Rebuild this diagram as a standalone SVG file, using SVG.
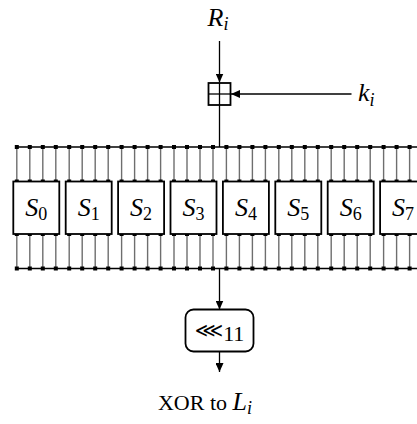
<svg xmlns="http://www.w3.org/2000/svg" xmlns:xlink="http://www.w3.org/1999/xlink" width="417" height="424" viewBox="0 0 417 424">
<style>
.ln{stroke:#000;stroke-width:1.3;fill:none}
.box{fill:#fff;stroke:#000;stroke-width:1.8}
.pinl{stroke:#6e6e6e;stroke-width:1.4}
.math{font-family:"Liberation Serif","DejaVu Serif",serif;font-style:italic;font-size:26px;fill:#000}
.sub{font-style:normal;font-size:18px}
.subi{font-style:italic;font-size:18px}
.txt{font-family:"Liberation Serif","DejaVu Serif",serif;font-size:22px;fill:#000}
.sym{font-family:"DejaVu Sans",sans-serif;font-size:20px;fill:#000}
</style>
<defs>
<marker id="ah" markerWidth="10" markerHeight="8" refX="9" refY="4" orient="auto" markerUnits="userSpaceOnUse">
<path d="M0,0 L9,4 L0,8 Z" fill="#000"/>
</marker>
<g id="pin">
<line class="pinl" x1="0" y1="0" x2="0" y2="34.5"/>
<rect x="-2" y="-2" width="4" height="4" fill="#000"/>
<rect x="-2" y="32.5" width="4" height="4" fill="#000"/>
</g>
</defs>

<g id="connectors">
<line class="ln" x1="219.5" y1="41" x2="219.5" y2="82.5" marker-end="url(#ah)"/>
<line class="ln" x1="351.5" y1="94" x2="231" y2="94" marker-end="url(#ah)"/>
<line class="ln" x1="219.5" y1="105" x2="219.5" y2="147"/>
<line class="ln" x1="16.8" y1="147" x2="417" y2="147"/>
<line class="ln" x1="16.8" y1="268.5" x2="417" y2="268.5"/>
<line class="ln" x1="219.5" y1="268.5" x2="219.5" y2="309.5" marker-end="url(#ah)"/>
<line class="ln" x1="219.5" y1="351.5" x2="219.5" y2="372" marker-end="url(#ah)"/>
<g id="pins-top">
<use xlink:href="#pin" x="16.8" y="147"/><use xlink:href="#pin" x="29.8" y="147"/><use xlink:href="#pin" x="42.8" y="147"/><use xlink:href="#pin" x="55.8" y="147"/>
<use xlink:href="#pin" x="69.2" y="147"/><use xlink:href="#pin" x="82.2" y="147"/><use xlink:href="#pin" x="95.2" y="147"/><use xlink:href="#pin" x="108.2" y="147"/>
<use xlink:href="#pin" x="121.6" y="147"/><use xlink:href="#pin" x="134.6" y="147"/><use xlink:href="#pin" x="147.6" y="147"/><use xlink:href="#pin" x="160.6" y="147"/>
<use xlink:href="#pin" x="174" y="147"/><use xlink:href="#pin" x="187" y="147"/><use xlink:href="#pin" x="200" y="147"/><use xlink:href="#pin" x="213" y="147"/>
<use xlink:href="#pin" x="226.4" y="147"/><use xlink:href="#pin" x="239.4" y="147"/><use xlink:href="#pin" x="252.4" y="147"/><use xlink:href="#pin" x="265.4" y="147"/>
<use xlink:href="#pin" x="278.8" y="147"/><use xlink:href="#pin" x="291.8" y="147"/><use xlink:href="#pin" x="304.8" y="147"/><use xlink:href="#pin" x="317.8" y="147"/>
<use xlink:href="#pin" x="331.2" y="147"/><use xlink:href="#pin" x="344.2" y="147"/><use xlink:href="#pin" x="357.2" y="147"/><use xlink:href="#pin" x="370.2" y="147"/>
<use xlink:href="#pin" x="383.6" y="147"/><use xlink:href="#pin" x="396.6" y="147"/><use xlink:href="#pin" x="409.6" y="147"/>
</g>
<g id="pins-bottom">
<use xlink:href="#pin" x="16.8" y="234"/><use xlink:href="#pin" x="29.8" y="234"/><use xlink:href="#pin" x="42.8" y="234"/><use xlink:href="#pin" x="55.8" y="234"/>
<use xlink:href="#pin" x="69.2" y="234"/><use xlink:href="#pin" x="82.2" y="234"/><use xlink:href="#pin" x="95.2" y="234"/><use xlink:href="#pin" x="108.2" y="234"/>
<use xlink:href="#pin" x="121.6" y="234"/><use xlink:href="#pin" x="134.6" y="234"/><use xlink:href="#pin" x="147.6" y="234"/><use xlink:href="#pin" x="160.6" y="234"/>
<use xlink:href="#pin" x="174" y="234"/><use xlink:href="#pin" x="187" y="234"/><use xlink:href="#pin" x="200" y="234"/><use xlink:href="#pin" x="213" y="234"/>
<use xlink:href="#pin" x="226.4" y="234"/><use xlink:href="#pin" x="239.4" y="234"/><use xlink:href="#pin" x="252.4" y="234"/><use xlink:href="#pin" x="265.4" y="234"/>
<use xlink:href="#pin" x="278.8" y="234"/><use xlink:href="#pin" x="291.8" y="234"/><use xlink:href="#pin" x="304.8" y="234"/><use xlink:href="#pin" x="317.8" y="234"/>
<use xlink:href="#pin" x="331.2" y="234"/><use xlink:href="#pin" x="344.2" y="234"/><use xlink:href="#pin" x="357.2" y="234"/><use xlink:href="#pin" x="370.2" y="234"/>
<use xlink:href="#pin" x="383.6" y="234"/><use xlink:href="#pin" x="396.6" y="234"/><use xlink:href="#pin" x="409.6" y="234"/>
</g>
</g>

<g id="label-Ri"><text class="math" x="218" y="26" text-anchor="middle">R<tspan class="subi" dy="4">i</tspan></text></g>
<g id="label-ki"><text class="math" x="358" y="101">k<tspan class="subi" dy="5">i</tspan></text></g>

<g id="add">
<rect class="box" x="208.5" y="83" width="22" height="22" stroke-width="1.6"/>
<line class="ln" x1="219.5" y1="83" x2="219.5" y2="105" stroke-width="1.6"/>
<line class="ln" x1="208.5" y1="94" x2="230.5" y2="94" stroke-width="1.6"/>
</g>

<g id="S0"><rect class="box" x="13.3" y="181.5" width="46" height="52.5"/><text class="math" x="36.3" y="216" text-anchor="middle">S<tspan class="sub" dy="4">0</tspan></text></g>
<g id="S1"><rect class="box" x="65.7" y="181.5" width="46" height="52.5"/><text class="math" x="88.7" y="216" text-anchor="middle">S<tspan class="sub" dy="4">1</tspan></text></g>
<g id="S2"><rect class="box" x="118.1" y="181.5" width="46" height="52.5"/><text class="math" x="141.1" y="216" text-anchor="middle">S<tspan class="sub" dy="4">2</tspan></text></g>
<g id="S3"><rect class="box" x="170.5" y="181.5" width="46" height="52.5"/><text class="math" x="193.5" y="216" text-anchor="middle">S<tspan class="sub" dy="4">3</tspan></text></g>
<g id="S4"><rect class="box" x="222.9" y="181.5" width="46" height="52.5"/><text class="math" x="245.9" y="216" text-anchor="middle">S<tspan class="sub" dy="4">4</tspan></text></g>
<g id="S5"><rect class="box" x="275.3" y="181.5" width="46" height="52.5"/><text class="math" x="298.3" y="216" text-anchor="middle">S<tspan class="sub" dy="4">5</tspan></text></g>
<g id="S6"><rect class="box" x="327.7" y="181.5" width="46" height="52.5"/><text class="math" x="350.7" y="216" text-anchor="middle">S<tspan class="sub" dy="4">6</tspan></text></g>
<g id="S7"><rect class="box" x="380.1" y="181.5" width="46" height="52.5"/><text class="math" x="403.1" y="216" text-anchor="middle">S<tspan class="sub" dy="4">7</tspan></text></g>

<g id="rotate">
<rect class="box" x="185.5" y="309.5" width="68" height="42" rx="8" ry="8"/>
<text x="219.5" y="337" text-anchor="middle"><tspan class="sym">⋘</tspan><tspan class="txt" font-size="18" dy="4">11</tspan></text>
</g>

<g id="label-out"><text class="txt" x="205" y="410" text-anchor="middle">XOR to <tspan class="math" font-size="23">L</tspan><tspan class="subi" font-family="Liberation Serif, serif" dy="4">i</tspan></text></g>
</svg>
